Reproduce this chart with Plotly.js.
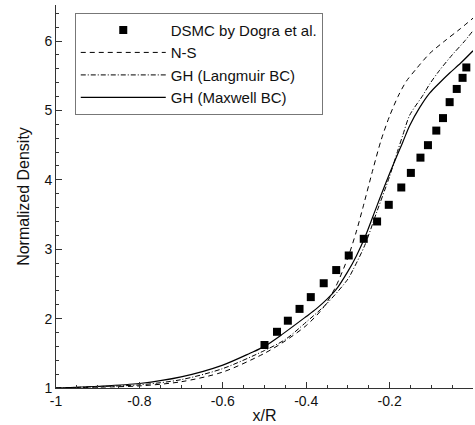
<!DOCTYPE html>
<html>
<head>
<meta charset="utf-8">
<script src="https://cdn.plot.ly/plotly-3.0.1.min.js"></script>
<style>html,body{margin:0;padding:0;background:#fff;}#chart{width:475px;height:425px;}</style>
</head>
<body>
<div id="chart"></div>
<script>
// DSMC by Dogra et al.
var dsmcX = [-0.500, -0.470, -0.444, -0.416, -0.389, -0.358, -0.328, -0.298, -0.262, -0.230, -0.202, -0.172, -0.149, -0.126, -0.108, -0.088, -0.072, -0.056, -0.039, -0.025, -0.016];
var dsmcY = [1.62, 1.81, 1.97, 2.14, 2.31, 2.51, 2.70, 2.91, 3.15, 3.40, 3.64, 3.89, 4.10, 4.32, 4.50, 4.71, 4.89, 5.12, 5.31, 5.47, 5.62];

// N-S
var nsX = [-1.0, -0.9, -0.8, -0.7, -0.6, -0.5, -0.45, -0.4, -0.36, -0.33, -0.3, -0.28, -0.264, -0.24, -0.22, -0.2, -0.18, -0.16, -0.136, -0.104, -0.064, -0.03, 0.0];
var nsY = [1.0, 1.012, 1.03, 1.09, 1.23, 1.50, 1.68, 1.90, 2.15, 2.45, 2.88, 3.25, 3.60, 4.15, 4.58, 4.92, 5.20, 5.42, 5.60, 5.82, 6.02, 6.18, 6.33];

// GH (Langmuir BC)
var ghlX = [-1.0, -0.9, -0.8, -0.7, -0.6, -0.5, -0.45, -0.4, -0.35, -0.3, -0.288, -0.26, -0.23, -0.2, -0.18, -0.168, -0.152, -0.12, -0.104, -0.08, -0.05, -0.02, 0.0];
var ghlY = [1.0, 1.02, 1.045, 1.12, 1.28, 1.54, 1.70, 1.95, 2.22, 2.57, 2.70, 3.05, 3.55, 4.05, 4.43, 4.65, 4.93, 5.22, 5.38, 5.58, 5.80, 6.00, 6.15];

// GH (Maxwell BC)
var ghmX = [-1.0, -0.9, -0.8, -0.7, -0.6, -0.535, -0.5, -0.456, -0.4, -0.376, -0.35, -0.328, -0.3, -0.28, -0.256, -0.232, -0.2, -0.168, -0.152, -0.128, -0.104, -0.08, -0.056, -0.03, 0.0];
var ghmY = [1.0, 1.025, 1.065, 1.16, 1.33, 1.50, 1.60, 1.78, 2.03, 2.14, 2.28, 2.42, 2.68, 2.90, 3.22, 3.60, 4.09, 4.55, 4.78, 5.04, 5.25, 5.40, 5.54, 5.68, 5.86];

var xTickVals = [-1, -0.8, -0.6, -0.4, -0.2, 0];
var xTickText = ["-1", "-0.8", "-0.6", "-0.4", "-0.2", "0"];
var yTickVals = [1, 2, 3, 4, 5, 6];
var yTickText = ["1", "2", "3", "4", "5", "6"];

var FONT = "Liberation Sans, Arial, Helvetica, sans-serif";

var traces = [
  {x: dsmcX, y: dsmcY, type: "scatter", mode: "markers", name: "DSMC by Dogra et al.",
   marker: {symbol: "square", size: 8, color: "#000"}},
  {x: nsX, y: nsY, type: "scatter", mode: "lines", name: "N-S",
   line: {color: "#000", width: 1, dash: "5px,4px", shape: "spline", smoothing: 0.8}},
  {x: ghlX, y: ghlY, type: "scatter", mode: "lines", name: "GH (Langmuir BC)",
   line: {color: "#000", width: 1, dash: "5px,2px,1px,2px", shape: "spline", smoothing: 0.8}},
  {x: ghmX, y: ghmY, type: "scatter", mode: "lines", name: "GH (Maxwell BC)",
   line: {color: "#000", width: 1.2, shape: "spline", smoothing: 0.8}}
];

var axisCommon = {
  showgrid: false, zeroline: false, showline: true, linecolor: "#333", linewidth: 1,
  ticks: "inside", ticklen: 6, tickwidth: 1, tickcolor: "#333",
  tickfont: {family: FONT, size: 14, color: "#111"},
  mirror: false
};

var layout = {
  width: 475, height: 425,
  margin: {l: 56, r: 2, t: 5, b: 37},
  paper_bgcolor: "#fff", plot_bgcolor: "#fff",
  font: {family: FONT, color: "#111"},
  showlegend: true,
  legend: {
    x: 0.045, y: 0.98, xanchor: "left", yanchor: "top",
    bgcolor: "#fff", bordercolor: "#777", borderwidth: 1,
    font: {family: FONT, size: 15, color: "#111"},
    itemwidth: 85, tracegroupgap: 0
  },
  xaxis: Object.assign({}, axisCommon, {
    range: [-1, 0], tickmode: "array", tickvals: xTickVals, ticktext: xTickText,
    minor: {dtick: 0.05, ticks: "inside", ticklen: 3, tickcolor: "#333", showgrid: false},
    title: {text: "x/R", font: {family: FONT, size: 16, color: "#111"}, standoff: 2}
  }),
  yaxis: Object.assign({}, axisCommon, {
    range: [1, 6.52], tickmode: "array", tickvals: yTickVals, ticktext: yTickText,
    minor: {dtick: 0.2, ticks: "inside", ticklen: 3, tickcolor: "#333", showgrid: false},
    title: {text: "Normalized Density", font: {family: FONT, size: 16, color: "#111"}, standoff: 10}
  })
};

Plotly.newPlot("chart", traces, layout, {staticPlot: true, displayModeBar: false});
</script>
</body>
</html>
